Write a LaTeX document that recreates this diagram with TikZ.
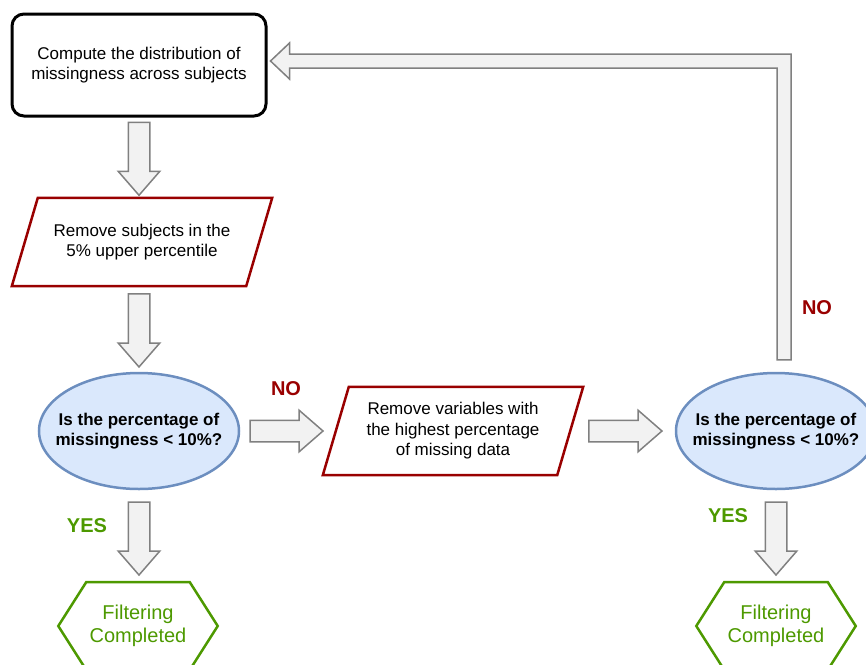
\documentclass[tikz,border=0pt]{standalone}
\usepackage{fontspec}
\setmainfont{Liberation Sans}
\usetikzlibrary{shapes,shapes.geometric,shapes.arrows,shapes.symbols,calc,positioning}

% Paralelogramo alrededor de un nodo rectangular
\newcommand{\slantbox}[1]{%
	\draw[removeline] ($(#1.south west)+(-13, 0)$) -- ($(#1.south east)+(-13, 0)$)
		-- ($(#1.north east)+(13, 0)$) -- ($(#1.north west)+(13, 0)$) -- cycle;}

\begin{document}
\begin{tikzpicture}[x=1pt, y=-1pt]
		% Colores
		\definecolor{darkred}{RGB}{153, 0, 0}       % Bordes de los paralelogramos y NO
		\definecolor{okgreen}{RGB}{77, 153, 0}      % Hexagonos y YES
		\definecolor{qfill}{RGB}{218, 232, 252}     % Relleno de las preguntas
		\definecolor{qline}{RGB}{108, 142, 191}     % Borde de las preguntas
		\definecolor{arrfill}{RGB}{242, 242, 242}   % Relleno de las flechas
		\definecolor{arrline}{RGB}{128, 128, 128}   % Borde de las flechas
		
		% Marco de la imagen
		\useasboundingbox (0, 0) rectangle (866, 664);
		
		% --- Estilos ---
		\tikzset{
			txt/.style={font=\fontsize{17}{20.5}\selectfont, align=center},
			startbox/.style={txt, draw=black, line width=3pt, rounded corners=12pt,
				minimum width=254pt, minimum height=102pt},
			removebox/.style={txt, minimum width=234pt, minimum height=88pt},
			removeline/.style={draw=darkred, line width=2.5pt, line join=miter},
			question/.style={txt, font=\fontsize{17}{20.5}\selectfont\bfseries, ellipse,
				draw=qline, fill=qfill, line width=2.5pt, inner ysep=0pt, inner xsep=-14pt,
				minimum width=200pt, minimum height=116pt},
			donebox/.style={align=center, font=\fontsize{20}{23.5}\selectfont, text=okgreen,
				draw=okgreen, line width=2.5pt, signal, signal to=west and east,
				signal pointer angle=115, minimum width=159pt, minimum height=88pt},
			blockarr/.style={draw=arrline, fill=arrfill, line width=1.5pt},
			fatarrow/.style={blockarr, single arrow, single arrow head extend=10pt,
				single arrow head indent=0pt, single arrow tip angle=82,
				inner xsep=0pt, inner ysep=10pt, anchor=tail,
				minimum width=40pt, minimum height=73pt},
			nolabel/.style={font=\fontsize{20}{24}\selectfont\bfseries, text=darkred},
			yeslabel/.style={font=\fontsize{20}{24}\selectfont\bfseries, text=okgreen}
		}
		
		% --- Nodos ---
		\node[startbox] (compute) at (139, 65) {Compute the distribution of\\missingness across subjects};
		\node[removebox] (subjects) at (142, 242) {Remove subjects in the\\5\% upper percentile};
		\node[question] (check1) at (139, 431) {Is the percentage of\\missingness < 10\%?};
		\node[removebox] (variables) at (453, 431) {Remove variables with\\the highest percentage\\of missing data};
		\node[question] (check2) at (776, 431) {Is the percentage of\\missingness < 10\%?};
		\node[donebox] (done1) at (138, 626) {Filtering\\Completed};
		\node[donebox] (done2) at (776, 626) {Filtering\\Completed};
		
		% Bordes inclinados de los pasos de eliminacion
		\slantbox{subjects}
		\slantbox{variables}
		
		% --- Flechas ---
		\node[fatarrow, rotate=-90] (a1) at ($(compute.south)+(0, 4)$) {};
		\node[fatarrow, rotate=-90] (a2) at ($(subjects.south)+(-3, 7)$) {};
		\node[fatarrow, rotate=-90] (a3) at ($(check1.south)+(0, 11)$) {};
		\node[fatarrow, rotate=-90] (a4) at ($(check2.south)+(0, 11)$) {};
		\node[fatarrow] (a5) at ($(check1.east)+(9, 0)$) {};
		\node[fatarrow] (a6) at ($(variables.east)+(18, 0)$) {};
		
		% Flecha de retorno (NO) hacia el primer paso
		\coordinate (loopbot) at ($(check2.north)+(8, -12)$);
		\coordinate (looptip) at ($(compute.east)+(3, -4)$);
		\draw[blockarr] ($(loopbot)+(-7, 0)$) -- ($(loopbot)+(7, 0)$)
			|- ($(looptip)+(19, -7)$) -- ++(0, -11) -- (looptip)
			-- ($(looptip)+(19, 18)$) -- ++(0, -11) -| ($(loopbot)+(-7, 0)$) -- cycle;
		
		% --- Etiquetas ---
		\node[nolabel] (no1) at (286, 389) {NO};
		\node[nolabel] (no2) at (817, 308) {NO};
		\node[yeslabel] (yes1) at (87, 526) {YES};
		\node[yeslabel] (yes2) at (728, 516) {YES};
		
	\end{tikzpicture}
\end{document}
